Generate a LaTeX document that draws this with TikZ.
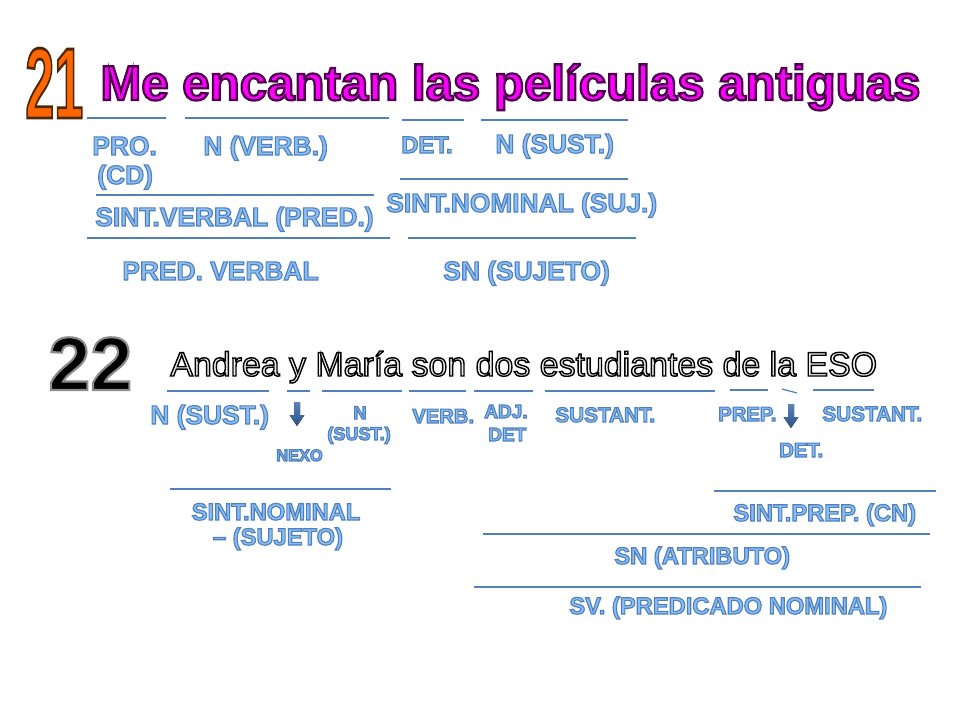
\documentclass[tikz,border=0pt]{standalone}
\usepackage{fontspec}
\setmainfont{Liberation Sans}

\definecolor{ruleblue}{RGB}{79,129,189}
\definecolor{labfill}{RGB}{142,190,238}
\definecolor{titlemag}{RGB}{255,0,255}
\definecolor{numorange}{RGB}{255,102,0}
\definecolor{arrowtop}{RGB}{92,132,186}
\definecolor{arrowbot}{RGB}{42,80,135}

% outlined text: stroke colour (rgb), stroke width, text
\newcommand{\outl}[3]{\special{pdf:literal direct #1 RG #2 w 2 Tr}#3\special{pdf:literal direct 0 Tr}}
\newcommand{\blu}[1]{\outl{0.30 0.50 0.76}{0.65}{#1}}

\begin{document}
\begin{tikzpicture}[x=0.02cm, y=-0.02cm,
    rule/.style={draw=ruleblue, line width=0.7pt},
    lab/.style={anchor=base west, inner sep=0pt, text=labfill,
      font=\bfseries\fontsize{#1}{#1}\selectfont},
    labc/.style={lab=#1, anchor=base},
    bigarrow/.style={top color=arrowtop, bottom color=arrowbot, draw=none}]

    \path[use as bounding box] (0,0) rectangle (960,720);

    % sentence 21
    \node[anchor=base west, inner sep=0pt, text=numorange,
      font=\bfseries\fontsize{57}{57}\selectfont] (num21) at (25,118)
      {\scalebox{0.52}[1]{\outl{0.3 0.15 0}{1.6}{21}}};
    \node[anchor=base west, inner sep=0pt, text=titlemag,
      font=\bfseries\fontsize{28}{28}\selectfont] (frase21) at (100,100)
      {\outl{0.3 0 0.3}{1.3}{Me encantan las películas antiguas}};

    \foreach \a/\b/\y in {87/166/118, 185/389/118, 402/464/120, 481/628/120,
                          400/628/179, 96/374/195, 87/390/238, 408/636/238}
      \draw[rule] (\a,\y) -- (\b,\y);

    \node[lab=15]   (pro)   at (92,155)  {\blu{PRO.}};
    \node[lab=15]   (cd)    at (97,184)  {\blu{(CD)}};
    \node[lab=15]   (nverb) at (203,155) {\blu{N (VERB.)}};
    \node[lab=13.5] (det)   at (401,153) {\blu{DET.}};
    \node[lab=15]   (nsust) at (495,153) {\blu{N (SUST.)}};
    \node[lab=15]   (sv)    at (95,226)  {\blu{SINT.VERBAL (PRED.)}};
    \node[lab=15]   (snom)  at (386,212) {\blu{SINT.NOMINAL (SUJ.)}};
    \node[lab=15]   (pred)  at (122,280) {\blu{PRED. VERBAL}};
    \node[lab=15]   (suj)   at (443,280) {\blu{SN (SUJETO)}};

    % sentence 22
    \node[anchor=base west, inner sep=0pt, text=black,
      font=\bfseries\fontsize{43}{43}\selectfont] (num22) at (48,390)
      {\outl{0.55 0.55 0.55}{1.2}{22}};
    \node[anchor=base west, inner sep=0pt, text=gray!12,
      font=\fontsize{19.3}{19.3}\selectfont] (frase22) at (170,376)
      {\outl{0 0 0}{0.8}{Andrea y María son dos estudiantes de la ESO}};

    \foreach \a/\b/\y in {167/269/391, 287/310/391, 322/402/391, 409/466/391,
                          474/533/391, 545/715/391, 730/768/390, 813/874/390,
                          170/391/489, 714/936/491, 483/930/534, 474/921/587}
      \draw[rule] (\a,\y) -- (\b,\y);
    \draw[rule] (782,389) -- (797,393);

    \node[lab=15]   (andrea) at (150,424) {\blu{N (SUST.)}};
    \node[lab=9.3]  (nexo)   at (276,461) {\blu{NEXO}};
    \node[labc=10.3] (nmaria) at (360,419) {\blu{N}};
    \node[lab=10.3] (maria)  at (327,440) {\blu{(SUST.)}};
    \node[lab=11.5] (verb)   at (412,423) {\blu{VERB.}};
    \node[lab=10.8] (adj)    at (484,418) {\blu{ADJ.}};
    \node[lab=10.8] (adjdet) at (488,441) {\blu{DET}};
    \node[lab=11.8] (estud)  at (555,422) {\blu{SUSTANT.}};
    \node[lab=11.5] (prep)   at (718,421) {\blu{PREP.}};
    \node[lab=11.8] (eso)    at (822,421) {\blu{SUSTANT.}};
    \node[lab=11.5] (ladet)  at (779,457) {\blu{DET.}};

    \node[labc=13.5] (snsuj)  at (276,520) {\blu{SINT.NOMINAL}};
    \node[labc=13.5] (snsuj2) at (278,545) {\blu{\textendash{} (SUJETO)}};
    \node[lab=13.5]  (sprep)  at (733,521) {\blu{SINT.PREP. (CN)}};
    \node[lab=13.5]  (atrib)  at (614,564) {\blu{SN (ATRIBUTO)}};
    \node[lab=13.5]  (pnom)   at (569,614) {\blu{SV. (PREDICADO NOMINAL)}};

    % block arrows
    \foreach \cx/\ty in {297/402, 791/404}
      \fill[bigarrow] (\cx-3,\ty) -- (\cx+3,\ty) -- (\cx+3,\ty+13) -- (\cx+7.5,\ty+13)
        -- (\cx,\ty+24) -- (\cx-7.5,\ty+13) -- (\cx-3,\ty+13) -- cycle;

\end{tikzpicture}
\end{document}
